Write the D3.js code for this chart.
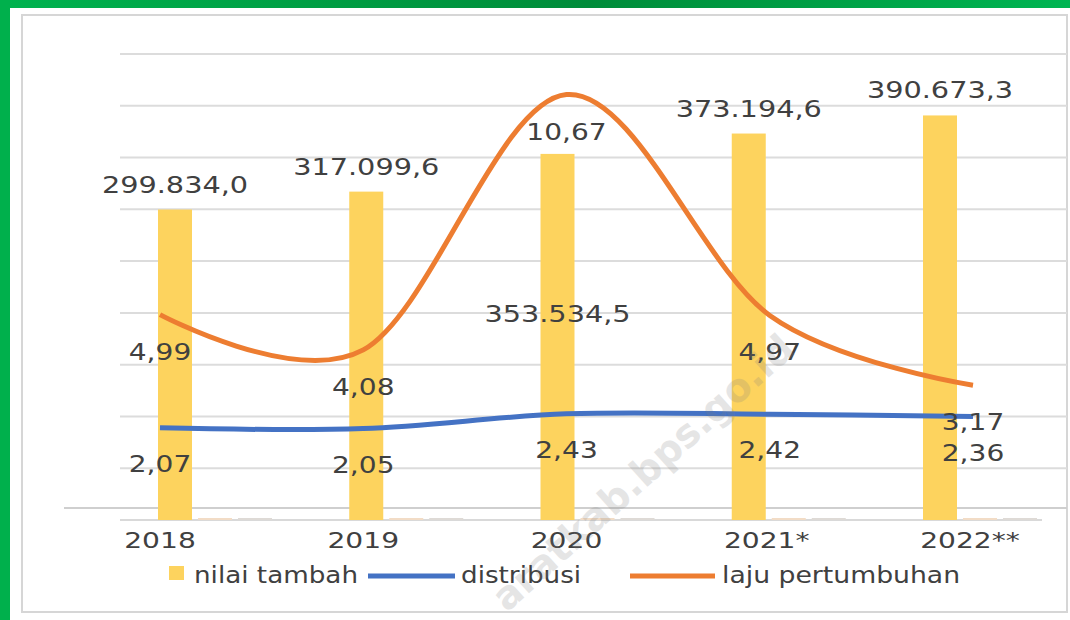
<!DOCTYPE html>
<html lang="id">
<head>
  <meta charset="UTF-8">
  <title>Nilai tambah, distribusi dan laju pertumbuhan</title>
  <script src="https://d3js.org/d3.v7.min.js"></script>
  <style>
    body { margin: 0; background: #fff; }
    svg { display: block; font-family: "DejaVu Sans", Verdana, sans-serif; }
  </style>
</head>
<body>
<script type="text/javascript">
    // data
    var years = ["2018", "2019", "2020", "2021*", "2022**"];
    var nilaiTambah = [299834.0, 317099.6, 353534.5, 373194.6, 390673.3];
    var distribusi = [2.07, 2.05, 2.43, 2.42, 2.36];
    var lajuPertumbuhan = [4.99, 4.08, 10.67, 4.97, 3.17];
    var legendNames = ["nilai tambah", "distribusi", "laju pertumbuhan"];

    var W = 1070, H = 620;
    var cBar = "#fdd35e", cBlue = "#4472c4", cOrange = "#ed7d31", cText = "#404040";

    var idLocale = d3.formatLocale({decimal: ",", thousands: ".", grouping: [3], currency: ["Rp", ""]});
    var fmtBig = idLocale.format(",.1f");
    var fmtPct = idLocale.format(".2f");

    var svg = d3.select("body").append("svg")
                .attr("width", W)
                .attr("height", H);

    // green frame
    var grad = svg.append("defs").append("linearGradient").attr("id", "g1");
    grad.append("stop").attr("offset", "0%").attr("stop-color", "#00b34f");
    grad.append("stop").attr("offset", "55%").attr("stop-color", "#008c3a");
    grad.append("stop").attr("offset", "100%").attr("stop-color", "#00b552");
    svg.append("rect").attr("x", 0).attr("y", 0).attr("width", W).attr("height", 8).attr("fill", "url(#g1)");
    svg.append("rect").attr("x", 0).attr("y", 0).attr("width", 10).attr("height", H).attr("fill", "#00b04c");
    svg.append("rect").attr("x", 22).attr("y", 15).attr("width", 1045).attr("height", 597)
       .attr("fill", "none").attr("stroke", "#d6d6d6").attr("stroke-width", 2);

    var xBar = d3.scalePoint().domain(years).range([175, 940]);
    var xLine = d3.scalePoint().domain(years).range([160, 973]);
    var yBar = d3.scaleLinear().domain([0, 450000]).range([520, 54]);
    var yLine = d3.scaleLinear().domain([0, 12]).range([508, 43]);
    var barW = 34;

    // gridlines
    svg.selectAll("line.grid")
       .data(yBar.ticks(9).filter(function(d){ return d > 0; }))
       .enter().append("line")
       .attr("class", "grid")
       .attr("x1", 120).attr("x2", 1067)
       .attr("y1", function(d){ return yBar(d); })
       .attr("y2", function(d){ return yBar(d); })
       .attr("stroke", "#dcdcdc").attr("stroke-width", 2);
    svg.append("line").attr("x1", 120).attr("x2", 1042)
       .attr("y1", yBar(0)).attr("y2", yBar(0))
       .attr("stroke", "#d9d9d9").attr("stroke-width", 2);
    svg.append("line").attr("x1", 64).attr("x2", 1067)
       .attr("y1", yLine(0)).attr("y2", yLine(0))
       .attr("stroke", "#cfcfcf").attr("stroke-width", 2);

    // bars
    svg.selectAll("rect.bar")
       .data(nilaiTambah)
       .enter().append("rect")
       .attr("class", "bar")
       .attr("x", function(d, i){ return xBar(years[i]) - barW / 2; })
       .attr("y", function(d){ return yBar(d); })
       .attr("width", barW)
       .attr("height", function(d){ return yBar(0) - yBar(d); })
       .attr("fill", cBar);

    // the two percentage series as (flat) columns on the value axis
    [distribusi, lajuPertumbuhan].forEach(function(arr, k){
      svg.selectAll("rect.flat" + k)
         .data(arr)
         .enter().append("rect")
         .attr("x", function(d, i){ return xBar(years[i]) + barW / 2 + 6 + k * 40; })
         .attr("y", function(d){ return yBar(d) - 2; })
         .attr("width", 34)
         .attr("height", function(d){ return Math.max(2, yBar(0) - yBar(d)); })
         .attr("fill", k == 0 ? "#f2dcc6" : "#dedad6");
    });

    // smoothed lines
    var line = d3.line()
                 .x(function(d, i){ return xLine(years[i]); })
                 .y(function(d){ return yLine(d); })
                 .curve(d3.curveCatmullRom.alpha(0));
    svg.append("path").datum(distribusi).attr("d", line)
       .attr("fill", "none").attr("stroke", cBlue).attr("stroke-width", 5);
    svg.append("path").datum(lajuPertumbuhan).attr("d", line)
       .attr("fill", "none").attr("stroke", cOrange).attr("stroke-width", 5);

    // stretched text helper
    function label(txt, x, y, size, sx, anchor){
      return svg.append("text")
                .attr("transform", "translate(" + x + "," + y + ") scale(" + sx + ",1)")
                .attr("text-anchor", anchor || "middle")
                .attr("font-size", size)
                .attr("fill", cText)
                .text(txt);
    }

    // value labels
    var barLabelDy = [-17, -17, 168, -17, -17];
    nilaiTambah.forEach(function(d, i){
      label(fmtBig(d), xBar(years[i]), yBar(d) + barLabelDy[i], 23, 1.25);
    });
    lajuPertumbuhan.forEach(function(d, i){
      label(fmtPct(d), xLine(years[i]), yLine(d) + 45, 23, 1.22);
    });
    distribusi.forEach(function(d, i){
      label(fmtPct(d), xLine(years[i]), yLine(d) + 44, 23, 1.22);
    });

    // category labels
    years.forEach(function(y){
      label(y, xLine(y) - (y.length > 4 ? 3 : 0), 548, 22, 1.28);
    });

    // legend
    var lg = svg.append("g");
    lg.append("rect").attr("x", 169).attr("y", 566).attr("width", 15).attr("height", 14).attr("fill", cBar);
    label(legendNames[0], 194, 583, 23, 1.14, "start");
    lg.append("line").attr("x1", 368).attr("x2", 455).attr("y1", 576).attr("y2", 576)
      .attr("stroke", cBlue).attr("stroke-width", 5);
    label(legendNames[1], 461, 583, 23, 1.14, "start");
    lg.append("line").attr("x1", 630).attr("x2", 715).attr("y1", 576).attr("y2", 576)
      .attr("stroke", cOrange).attr("stroke-width", 5);
    label(legendNames[2], 722, 583, 23, 1.16, "start");

    // watermark
    svg.append("text")
       .attr("transform", "translate(797,352) rotate(-42)")
       .attr("text-anchor", "end")
       .attr("font-size", 39)
       .attr("font-weight", "bold")
       .attr("fill", "#7f7f7f")
       .attr("opacity", 0.2)
       .text("aratkab.bps.go.id");
</script>
</body>
</html>
